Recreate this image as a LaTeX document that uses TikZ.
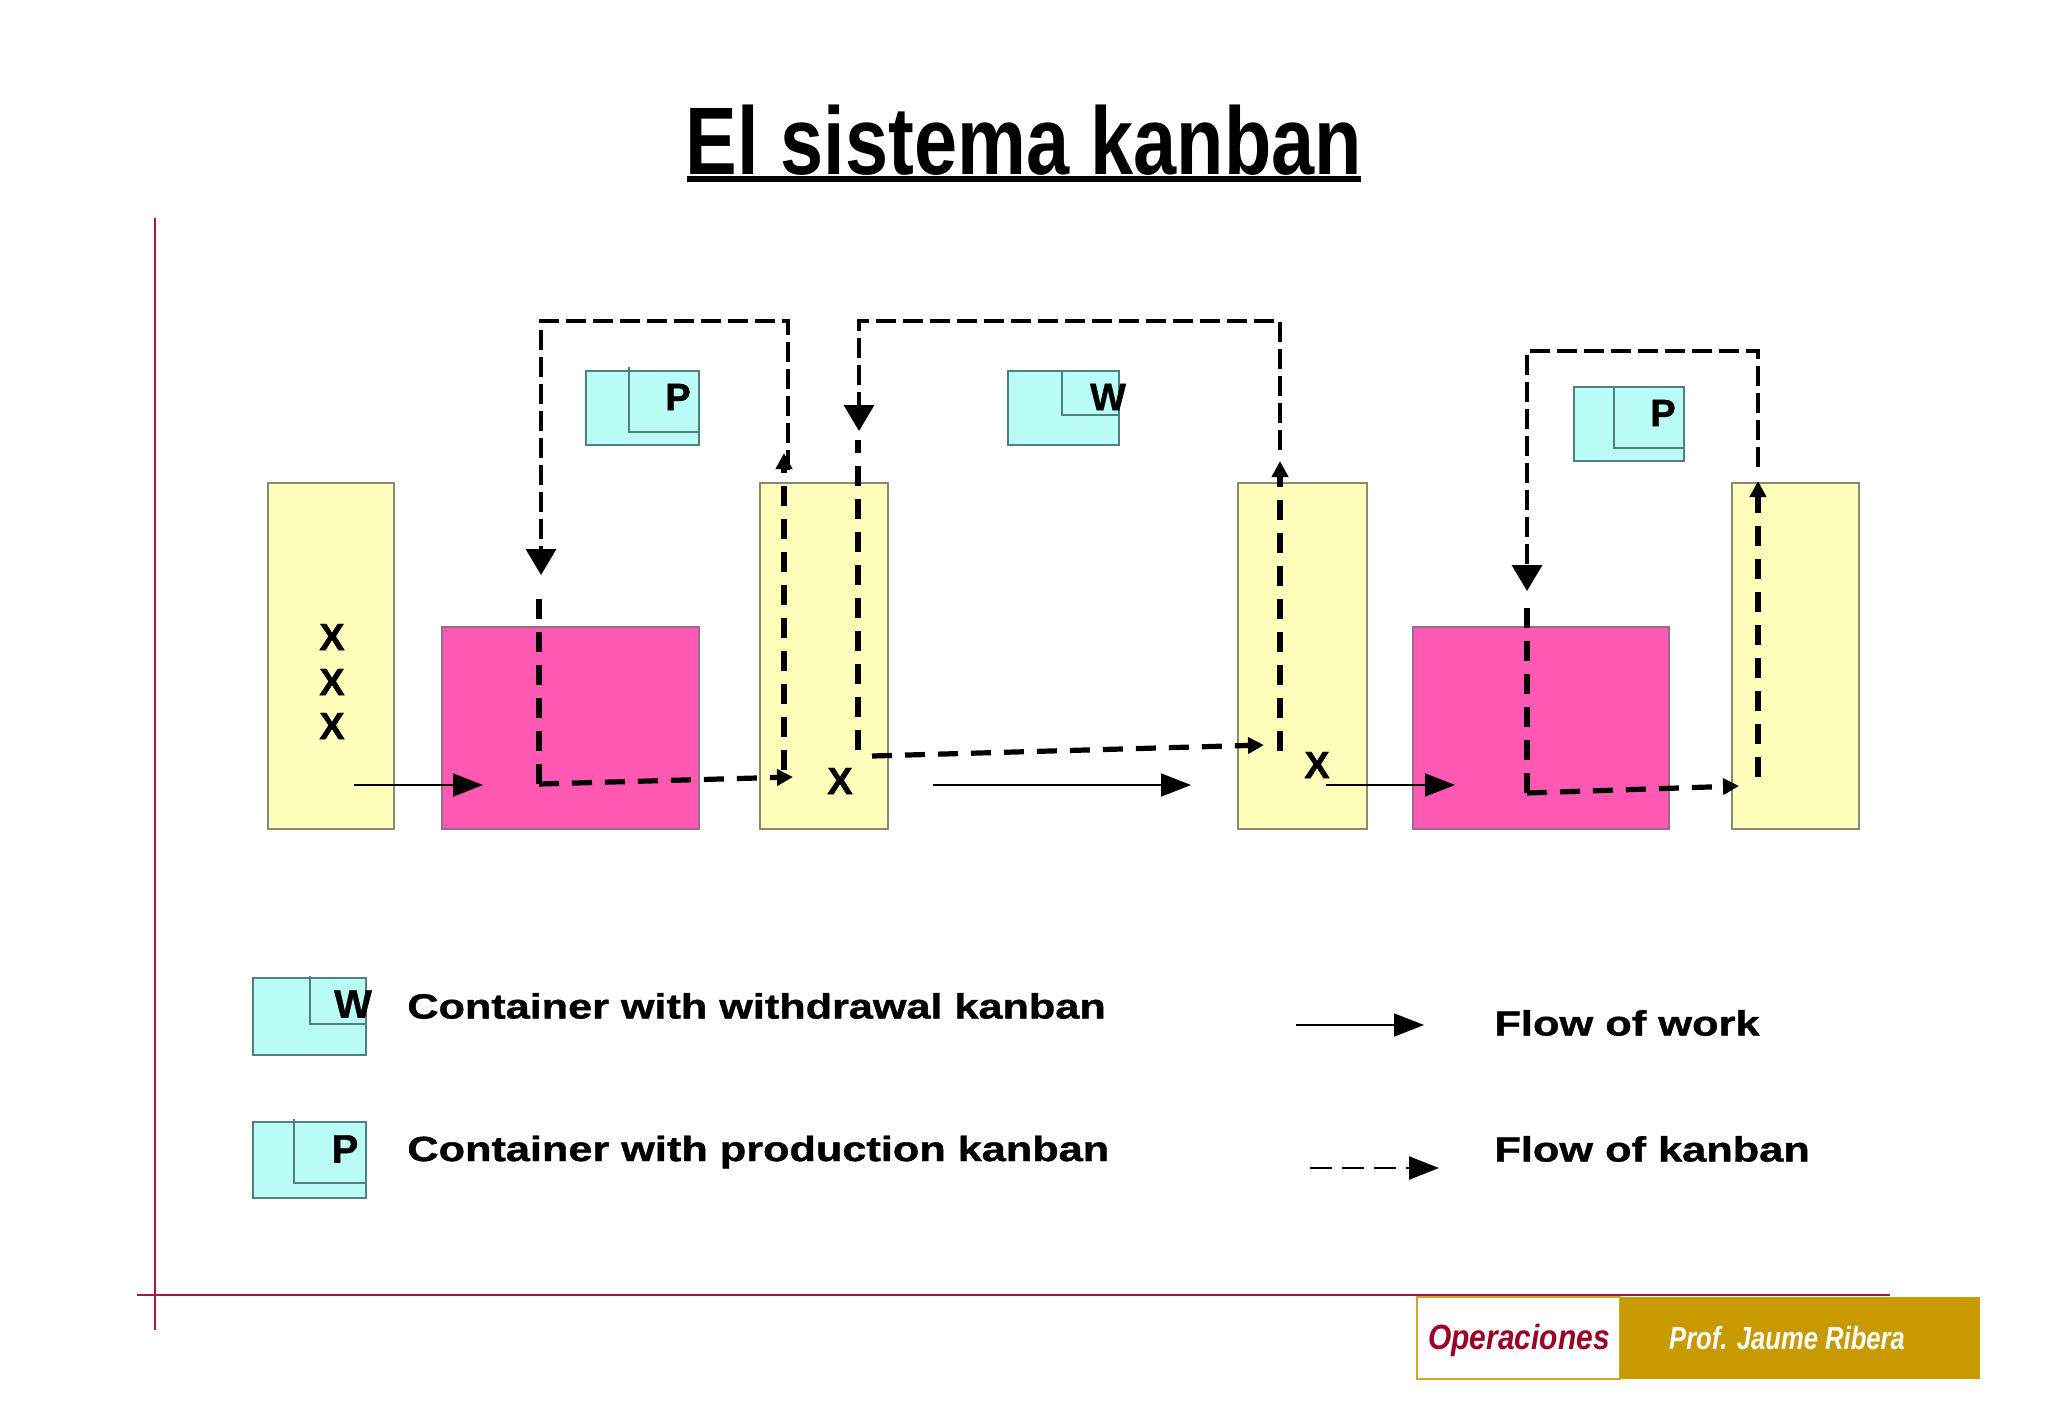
\documentclass[tikz,border=0pt]{standalone}
\usepackage{fontspec}
\setmainfont{Liberation Sans}
\newfontfamily\heavy{Liberation Sans}[BoldFeatures={FakeBold=1.0}]
\usetikzlibrary{arrows.meta}
\definecolor{ylw}{HTML}{FFFFBB}
\definecolor{ylwline}{HTML}{8A8A70}
\definecolor{mag}{HTML}{FF59B4}
\definecolor{magline}{HTML}{9A6A8A}
\definecolor{cyn}{HTML}{B9FBF5}
\definecolor{cynline}{HTML}{4F7F80}
\definecolor{redline}{HTML}{A8183C}
\definecolor{gold}{HTML}{C99A00}
\definecolor{opred}{HTML}{9C0028}
\tikzset{
  x=0.5pt,y=-0.5pt,
  ybox/.style={draw=ylwline,fill=ylw,line width=1pt,inner sep=0pt,minimum height=173pt},
  mbox/.style={draw=magline,fill=mag,line width=1pt,inner sep=0pt,minimum height=101pt},
  cbox/.style={draw=cynline,fill=cyn,line width=0.8pt,inner sep=0pt},
  kline/.style={draw=cynline,line width=0.8pt},
  lbl/.style={font=\heavy\bfseries\fontsize{17.5}{20}\selectfont,inner sep=0pt,text=black},
  mark lbl/.style={inner sep=0pt,text=black,font=\heavy\bfseries\fontsize{19}{20}\selectfont},
  key lbl/.style={inner sep=0pt,text=black,font=\heavy\bfseries\fontsize{20}{20}\selectfont},
  thick dash/.style={line width=2.6pt,dash pattern=on 10pt off 6.5pt},
  thin dash/.style={line width=1.8pt,dash pattern=on 10pt off 3.5pt},
  bigdown/.style={-{Triangle[length=13pt,width=15pt]}},
  smallup/.style={-{Triangle[length=8pt,width=8pt]}},
  flow/.style={line width=0.9pt,-{Triangle[length=15pt,width=11.5pt]}},
  redrule/.style={draw=redline,line width=0.8pt},
}
\begin{document}
\begin{tikzpicture}
\useasboundingbox[fill=white] (0,0) rectangle (2048,1418);
% title
\node[font=\bfseries\fontsize{48}{54}\selectfont,inner sep=0pt] (title) at (1024,140) {\scalebox{0.807}[1]{El sistema kanban}};
\coordinate (tl) at (687,179); \coordinate (tr) at (1361,179);
\draw[line width=2.6pt] (tl) -- (tr);
% frame rules
\coordinate (va) at (155,218); \coordinate (vb) at (155,1330);
\coordinate (ha) at (137,1295); \coordinate (hb) at (1890,1295);
\draw[redrule] (va) -- (vb);
\draw[redrule] (ha) -- (hb);
% process boxes
\node[ybox,minimum width=63pt] (y1) at (331,656) {};
\node[mbox,minimum width=128.5pt] (m1) at (570.5,728) {};
\node[ybox,minimum width=64pt] (y2) at (824,656) {};
\node[ybox,minimum width=64.5pt] (y3) at (1302.5,656) {};
\node[mbox,minimum width=128pt] (m2) at (1541,728) {};
\node[ybox,minimum width=63.5pt] (y4) at (1795.5,656) {};
% containers
\node[cbox,minimum width=56.5pt,minimum height=37pt] (c1) at (642.5,408) {};
\draw[kline] (629,367) |- (699,432);
\node[mark lbl] (c1t) at (678,397) {P};
\node[cbox,minimum width=55.5pt,minimum height=37pt] (c2) at (1063.5,408) {};
\draw[kline] (1062,371) |- (1119,415);
\node[mark lbl] (c2t) at (1108,397) {W};
\node[cbox,minimum width=55pt,minimum height=37pt] (c3) at (1629,424) {};
\draw[kline] (1614,387) |- (1684,448);
\node[mark lbl] (c3t) at (1663,413) {P};
% X marks
\foreach \n/\px/\py in {xa/332/637,xb/332/682,xc/332/726,xd/840/781,xe/1317/765}
  \node[mark lbl] (\n) at (\px,\py) {X};
% connector ends
\coordinate (a1) at (354,785); \coordinate (a2) at (483,785);
\coordinate (b1) at (933,785); \coordinate (b2) at (1191,785);
\coordinate (d1) at (1326,785); \coordinate (d2) at (1455,785);
\draw[flow] (a1) -- (a2);
\draw[flow] (b1) -- (b2);
\draw[flow] (d1) -- (d2);
% kanban loop 1
\coordinate (k1a) at (788,470); \coordinate (k1b) at (788,321); \coordinate (k1c) at (541,321); \coordinate (k1d) at (541,575);
\draw[thin dash,bigdown] (k1a) -- (k1b) -- (k1c) -- (k1d);
\coordinate (k1e) at (539,784); \coordinate (k1f) at (539,598); \coordinate (k1g) at (793,777);
\draw[thick dash] (k1e) -- (k1f);
\draw[thick dash,smallup] (k1e) -- (k1g);
\coordinate (k1h) at (784,770); \coordinate (k1i) at (784,453);
\draw[thick dash,smallup] (k1h) -- (k1i);
% kanban loop 2
\coordinate (k2a) at (1280,450); \coordinate (k2b) at (1280,321); \coordinate (k2c) at (859,321); \coordinate (k2d) at (859,431);
\draw[thin dash,bigdown] (k2a) -- (k2b) -- (k2c) -- (k2d);
\coordinate (k2e) at (858,750); \coordinate (k2f) at (858,440);
\draw[thick dash] (k2e) -- (k2f);
\coordinate (k2g) at (872,756); \coordinate (k2h) at (1264,745);
\draw[thick dash,smallup] (k2g) -- (k2h);
\coordinate (k2i) at (1280,751); \coordinate (k2j) at (1280,461);
\draw[thick dash,smallup] (k2i) -- (k2j);
% kanban loop 3
\coordinate (k3a) at (1758,467); \coordinate (k3b) at (1758,351); \coordinate (k3c) at (1527,351); \coordinate (k3d) at (1527,591);
\draw[thin dash,bigdown] (k3a) -- (k3b) -- (k3c) -- (k3d);
\coordinate (k3e) at (1527,793); \coordinate (k3f) at (1527,607); \coordinate (k3g) at (1739,786);
\draw[thick dash] (k3e) -- (k3f);
\draw[thick dash,smallup] (k3e) -- (k3g);
\coordinate (k3h) at (1758,777); \coordinate (k3i) at (1758,481);
\draw[thick dash,smallup] (k3h) -- (k3i);
% legend
\node[cbox,minimum width=56.5pt,minimum height=38.5pt] (lw) at (309.5,1016.5) {};
\draw[kline] (310,976) |- (366,1024);
\node[key lbl] (lwt) at (353,1004) {W};
\node[cbox,minimum width=56.5pt,minimum height=38pt] (lp) at (309.5,1160) {};
\draw[kline] (294,1119) |- (366,1183);
\node[key lbl] (lpt) at (345,1149) {P};
\node[lbl,anchor=west] (t1) at (407,1006) {\scalebox{1.234}[1]{Container with withdrawal kanban}};
\node[lbl,anchor=west] (t2) at (407,1152) {\scalebox{1.236}[1]{Container with production kanban}};
\node[lbl,anchor=west] (t3) at (1494,1023) {\scalebox{1.24}[1]{Flow of work}};
\node[lbl,anchor=west] (t4) at (1494,1149) {\scalebox{1.238}[1]{Flow of kanban}};
\coordinate (f1) at (1296,1025); \coordinate (f2) at (1424,1025);
\draw[flow] (f1) -- (f2);
\coordinate (f3) at (1310,1168); \coordinate (f4) at (1439,1168);
\draw[flow,line width=1.1pt,dash pattern=on 11pt off 5pt] (f3) -- (f4);
% footer
\node[draw=gold!85!white,fill=white,line width=0.9pt,minimum width=101.5pt,minimum height=41pt,inner sep=0pt] (op) at (1518.5,1338) {};
\node[fill=gold,minimum width=180pt,minimum height=41pt,inner sep=0pt] (pr) at (1800,1338) {};
\node[text=opred,inner sep=0pt,font=\bfseries\itshape\fontsize{17.5}{20}\selectfont] (opt) at (1519,1340) {\scalebox{0.855}[1]{Operaciones}};
\node[text=white,inner sep=0pt,font=\bfseries\itshape\fontsize{16}{20}\selectfont] (prt) at (1787,1338) {\scalebox{0.8}[1]{Prof. Jaume Ribera}};
\end{tikzpicture}
\end{document}
